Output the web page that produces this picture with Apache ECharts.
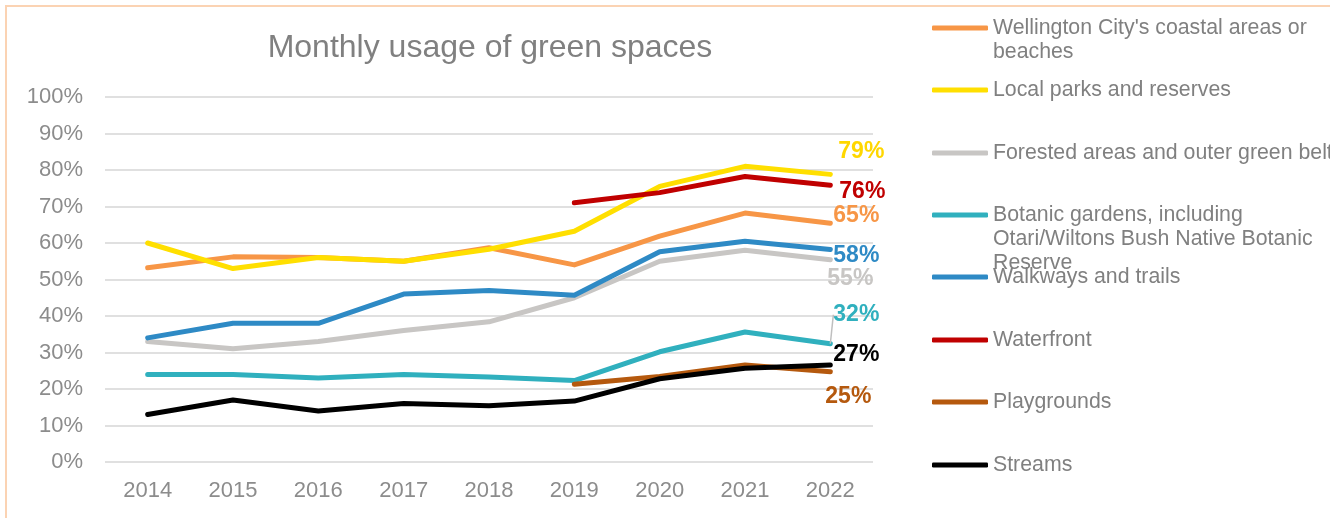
<!DOCTYPE html>
<html><head><meta charset="utf-8">
<script src="https://cdn.jsdelivr.net/npm/echarts@6/dist/echarts.min.js"></script>
<style>html,body{margin:0;padding:0;background:#fff}#c{width:1330px;height:518px}</style>
</head><body><div id="c"></div>
<script>
const categories = ['2014','2015','2016','2017','2018','2019','2020','2021','2022'];
const yTicks = [0,10,20,30,40,50,60,70,80,90,100];
const coastal    = [53.2, 56.2, 56, 55, 58.7, 54, 61.9, 68.2, 65.4];
const localParks = [60, 53, 56, 55, 58.3, 63.2, 75.5, 81, 78.8];
const forested   = [33, 31, 33, 36, 38.4, 45, 55, 58, 55.4];
const botanic    = [24, 24, 23, 24, 23.3, 22.3, 30.2, 35.6, 32.4];
const walkways   = [34, 38, 38, 46, 47, 45.7, 57.6, 60.5, 58.2];
const waterfront = [null, null, null, null, null, 71, 73.8, 78.2, 75.8];
const playgrounds= [null, null, null, null, null, 21.3, 23.4, 26.6, 24.7];
const streams    = [13, 17, 14, 16, 15.4, 16.7, 22.8, 25.7, 26.6];

const names = [
  "Wellington City's coastal areas or beaches",
  "Local parks and reserves",
  "Forested areas and outer green belt",
  "Botanic gardens, including Otari/Wiltons Bush Native Botanic Reserve",
  "Walkways and trails",
  "Waterfront",
  "Playgrounds",
  "Streams"
];
const legendLines = [
  ["Wellington City's coastal areas or", "beaches"],
  ["Local parks and reserves"],
  ["Forested areas and outer green belt"],
  ["Botanic gardens, including", "Otari/Wiltons Bush Native Botanic", "Reserve"],
  ["Walkways and trails"],
  ["Waterfront"],
  ["Playgrounds"],
  ["Streams"]
];
const values = [coastal, localParks, forested, botanic, walkways, waterfront, playgrounds, streams];
const colors = ['#F79646','#FFDF00','#C8C6C4','#30B0BE','#2E8AC5','#C00000','#B5590E','#000000'];
const labelColors = ['#F79646','#FFD700','#C8C6C4','#30B0BE','#2E8AC5','#C00000','#B5590E','#000000'];
const labelOffsets = [[-2,-7.6],[3,-22.7],[-8,19],[-2,-29],[-2,6],[4,6.4],[-10,25],[-2,-10.6]];
const legendCenters = [28, 90, 153, 215, 277, 340, 402, 465];

const series = values.map((arr, si) => ({
  name: names[si],
  type: 'line',
  symbol: 'circle',
  symbolSize: 0,
  showSymbol: true,
  connectNulls: false,
  lineStyle: { width: 5, color: colors[si], cap: 'round', join: 'round' },
  itemStyle: { color: colors[si] },
  emphasis: { disabled: true },
  z: 2 + si,
  data: arr.map((v, i) => i === arr.length - 1 ? {
    value: v,
    label: {
      show: true, position: 'right', distance: 5,
      offset: si === 3 ? [0, 0] : labelOffsets[si],
      formatter: p => Math.round(p.value) + '%',
      color: labelColors[si], fontSize: 23, fontWeight: 'bold',
      fontFamily: 'Liberation Sans, Arial, sans-serif'
    }
  } : v),
  labelLayout: si === 3 ? { dx: labelOffsets[si][0], dy: labelOffsets[si][1] } : undefined,
  labelLine: si === 3 ? { show: true, lineStyle: { color: '#BFBFBF', width: 1.5 } } : { show: false }
}));

const legends = names.map((n, i) => {
  const lines = legendLines[i];
  const n1 = lines.length;
  const txt = Array(n1 - 1).fill(' ').concat(lines).join('\n');
  return {
    data: [n],
    orient: 'vertical',
    left: 932,
    top: legendCenters[i] - 12 * (2 * n1 - 1),
    padding: 0,
    itemWidth: 56,
    itemHeight: 5,
    icon: 'roundRect',
    selectedMode: false,
    formatter: () => txt,
    textStyle: {
      color: '#808080', fontSize: 21.3, lineHeight: 24,
      fontFamily: 'Liberation Sans, Arial, sans-serif'
    }
  };
});

const chart = echarts.init(document.getElementById('c'), null, { renderer: 'canvas' });
chart.setOption({
  animation: false,
  backgroundColor: '#fff',
  textStyle: { fontFamily: 'Liberation Sans, Arial, sans-serif' },
  title: {
    text: 'Monthly usage of green spaces',
    left: 485, top: 27, textAlign: 'center',
    textStyle: { color: '#808080', fontSize: 32, fontWeight: 'normal', fontFamily: 'Liberation Sans, Arial, sans-serif' }
  },
  graphic: [{
    type: 'rect', silent: true, z: -10,
    shape: { x: 6, y: 6, width: 1400, height: 600 },
    style: { fill: 'none', stroke: '#FBD3B3', lineWidth: 2 }
  }],
  legend: legends,
  grid: { left: 105, right: 457, top: 97, bottom: 56, containLabel: false },
  xAxis: {
    type: 'category', data: categories, boundaryGap: true,
    axisLine: { show: false }, axisTick: { show: false },
    axisLabel: { color: '#8C8C8C', fontSize: 22, margin: 18 }
  },
  yAxis: {
    type: 'value', min: 0, max: 100, interval: 10,
    axisLabel: { color: '#8C8C8C', fontSize: 22, margin: 22, formatter: v => yTicks.includes(v) ? v + '%' : '' },
    axisLine: { show: false }, axisTick: { show: false },
    splitLine: { lineStyle: { color: '#E0E0E0', width: 2 } }
  },
  series: series
});
</script></body></html>
